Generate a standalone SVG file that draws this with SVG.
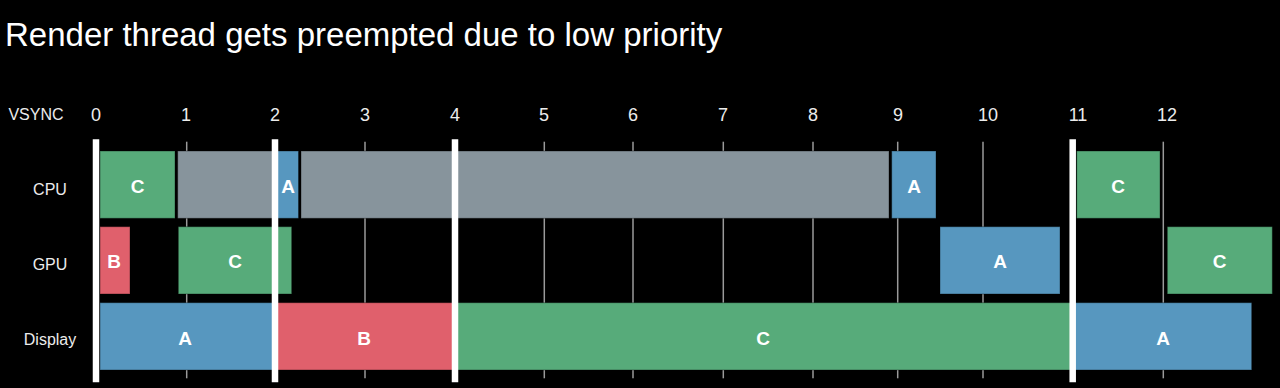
<svg xmlns="http://www.w3.org/2000/svg" width="1280" height="388" viewBox="0 0 1280 388">
<style>
text{font-family:"Liberation Sans",Arial,sans-serif;fill:#fff}
.title{font-size:33px}
.ax{font-size:16px;fill:#ececec;text-anchor:middle}
.num{font-size:18px;fill:#ececec;text-anchor:middle}
.lbl{font-size:19px;font-weight:bold;text-anchor:middle}
.grid{stroke:#9a9a9a;stroke-width:1.5}
.vs{stroke:#fff;stroke-width:6.5}
.bar{stroke:#000;stroke-opacity:0.35;stroke-width:1}
.g{fill:#57ab7a}.gr{fill:#87949c}.b{fill:#5797bf}.r{fill:#e0606c}
</style>
<rect width="1280" height="388" fill="#000"/>
<text class="title" x="5" y="46">Render thread gets preempted due to low priority</text>
<g id="axis">
<text class="ax" x="36" y="120">VSYNC</text>
<text class="num" x="96" y="121">0</text>
<text class="num" x="186" y="121">1</text>
<text class="num" x="275" y="121">2</text>
<text class="num" x="365" y="121">3</text>
<text class="num" x="455" y="121">4</text>
<text class="num" x="544" y="121">5</text>
<text class="num" x="633" y="121">6</text>
<text class="num" x="723" y="121">7</text>
<text class="num" x="813" y="121">8</text>
<text class="num" x="898" y="121">9</text>
<text class="num" x="988" y="121">10</text>
<text class="num" x="1078" y="121">11</text>
<text class="num" x="1167" y="121">12</text>
<text class="ax" x="50" y="195">CPU</text>
<text class="ax" x="50" y="270">GPU</text>
<text class="ax" x="50" y="345">Display</text>
</g>
<g id="grid">
<line class="grid" x1="186.7" y1="141.7" x2="186.7" y2="378.3"/>
<line class="grid" x1="365" y1="141.7" x2="365" y2="378.3"/>
<line class="grid" x1="544.3" y1="141.7" x2="544.3" y2="378.3"/>
<line class="grid" x1="633" y1="141.7" x2="633" y2="378.3"/>
<line class="grid" x1="723.3" y1="141.7" x2="723.3" y2="378.3"/>
<line class="grid" x1="813" y1="141.7" x2="813" y2="378.3"/>
<line class="grid" x1="897.7" y1="141.7" x2="897.7" y2="378.3"/>
<line class="grid" x1="983" y1="141.7" x2="983" y2="378.3"/>
<line class="grid" x1="1163.3" y1="141.7" x2="1163.3" y2="378.3"/>
</g>
<g id="cpu">
<rect class="bar g" x="100" y="151" width="75" height="67.3"/>
<text class="lbl" x="137.5" y="193">C</text>
<rect class="bar gr" x="177.7" y="151" width="98.3" height="67.3"/>
<rect class="bar b" x="276" y="151" width="22.5" height="67.3"/>
<text class="lbl" x="288" y="193">A</text>
<rect class="bar gr" x="301" y="151" width="588" height="67.3"/>
<rect class="bar b" x="891.7" y="151" width="44.3" height="67.3"/>
<text class="lbl" x="914" y="193">A</text>
<rect class="bar g" x="1076.7" y="151" width="83.3" height="67.3"/>
<text class="lbl" x="1118" y="193">C</text>
</g>
<g id="gpu">
<rect class="bar r" x="100" y="226.7" width="30" height="67.3"/>
<text class="lbl" x="114" y="268">B</text>
<rect class="bar g" x="178.3" y="226.7" width="113.4" height="67.3"/>
<text class="lbl" x="235" y="268">C</text>
<rect class="bar b" x="940" y="226.7" width="120" height="67.3"/>
<text class="lbl" x="1000" y="268">A</text>
<rect class="bar g" x="1167.3" y="226.7" width="105" height="67.3"/>
<text class="lbl" x="1219.5" y="268">C</text>
</g>
<g id="display">
<rect class="bar b" x="100" y="302.7" width="175" height="67.3"/>
<text class="lbl" x="185" y="345">A</text>
<rect class="bar r" x="276" y="302.7" width="178" height="67.3"/>
<text class="lbl" x="364" y="345">B</text>
<rect class="bar g" x="456" y="302.7" width="616" height="67.3"/>
<text class="lbl" x="763" y="345">C</text>
<rect class="bar b" x="1074" y="302.7" width="177.7" height="67.3"/>
<text class="lbl" x="1163" y="345">A</text>
</g>
<g id="vsync">
<line class="vs" x1="96" y1="139.3" x2="96" y2="382.3"/>
<line class="vs" x1="275" y1="139.3" x2="275" y2="382.3"/>
<line class="vs" x1="455" y1="139.3" x2="455" y2="382.3"/>
<line class="vs" x1="1072.7" y1="139.3" x2="1072.7" y2="382.3"/>
</g>
</svg>
